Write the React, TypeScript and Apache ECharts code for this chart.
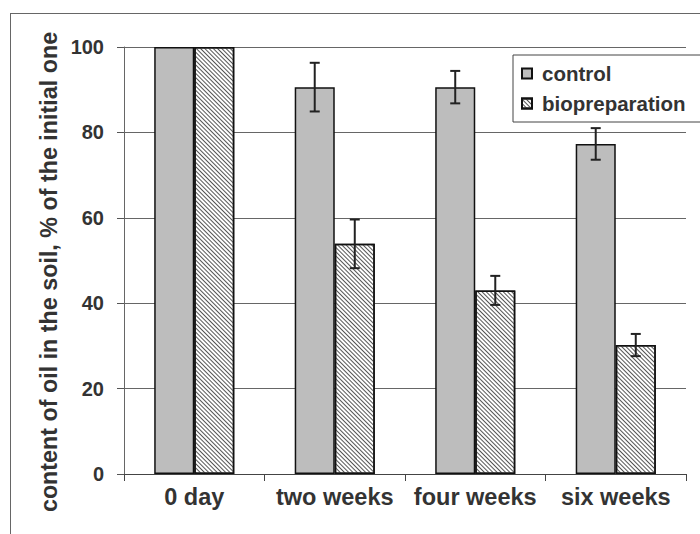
import React, { useEffect, useRef } from "react";
import * as echarts from "echarts";

const categories = ["0 day", "two weeks", "four weeks", "six weeks"];
const controlValues = [100, 90.6, 90.6, 77.3];
const controlErr = [0, 5.7, 3.8, 3.7];
const bioValues = [100, 53.9, 43.0, 30.2];
const bioErr = [0, 5.7, 3.4, 2.6];
const yTitle = "content of oil in the soil, % of the initial one";

const FONT = "Liberation Sans, Arial, sans-serif";
const TEXT = "#333";
const BAR_W = 0.285;

export default function App() {
  const ref = useRef<HTMLDivElement>(null);
  useEffect(() => {
    document.body.style.margin = "0";
    const chart = echarts.init(ref.current!, null, { renderer: "svg" });
    const errData = (vals: number[], errs: number[]) =>
      vals.map((v, i) => [i, v - errs[i], v + errs[i], errs[i]]);
    const errSeries = (name: string, vals: number[], errs: number[], side: number) => ({
      type: "custom",
      name: name + "err",
      silent: true,
      z: 10,
      data: errData(vals, errs),
      renderItem: (params: any, api: any) => {
        if (api.value(3) === 0) return null;
        const band = api.size([1, 0])[0];
        const off = side * band * BAR_W * 0.5;
        const lo = api.coord([api.value(0), api.value(1)]);
        const hi = api.coord([api.value(0), api.value(2)]);
        const x = lo[0] + off;
        const cap = 5;
        const st = { stroke: "#222", lineWidth: 2 };
        return {
          type: "group",
          children: [
            { type: "line", shape: { x1: x, y1: lo[1], x2: x, y2: hi[1] }, style: st },
            { type: "line", shape: { x1: x - cap, y1: lo[1], x2: x + cap, y2: lo[1] }, style: st },
            { type: "line", shape: { x1: x - cap, y1: hi[1], x2: x + cap, y2: hi[1] }, style: st },
          ],
        };
      },
    });
    chart.setOption({
      animation: false,
      backgroundColor: "#fff",
      grid: { left: 124, right: 14, top: 47, bottom: 60 },
      legend: {
        data: ["control", "biopreparation"],
        orient: "vertical",
        left: 513,
        top: 55,
        icon: "rect",
        itemWidth: 10,
        itemHeight: 10,
        itemGap: 9,
        padding: [8, 30, 8, 8],
        borderColor: "#444",
        borderWidth: 1,
        backgroundColor: "#fff",
        textStyle: { fontFamily: FONT, fontWeight: "bold", fontSize: 20.5, color: TEXT, padding: [0, 0, 0, 5] },
      },
      xAxis: {
        type: "category",
        data: categories,
        axisLine: { lineStyle: { color: "#444", width: 1 } },
        axisTick: { show: true, length: 7, lineStyle: { color: "#444" } },
        axisLabel: { fontFamily: FONT, fontWeight: "bold", fontSize: 23.5, color: TEXT, margin: 11, interval: 0 },
      },
      yAxis: {
        type: "value",
        min: 0,
        max: 100,
        interval: 20,
        axisLine: { show: true, lineStyle: { color: "#666", width: 1 } },
        axisTick: { show: true, length: 7, lineStyle: { color: "#555" } },
        axisLabel: { fontFamily: FONT, fontWeight: "bold", fontSize: 20, color: TEXT, margin: 20 },
        splitLine: { lineStyle: { color: "#666", width: 1 } },
      },
      series: [
        {
          name: "control",
          type: "bar",
          data: controlValues,
          barWidth: BAR_W * 100 + "%",
          barGap: "0%",
          itemStyle: { color: "#bdbdbd", borderColor: "#111", borderWidth: 1.5 },
        },
        {
          name: "biopreparation",
          type: "bar",
          data: bioValues,
          barWidth: BAR_W * 100 + "%",
          barGap: "0%",
          itemStyle: {
            color: "#ffffff",
            borderColor: "#111",
            borderWidth: 1.5,
            decal: {
              symbol: "rect",
              symbolSize: 1,
              color: "#555",
              dashArrayX: [1, 0],
              dashArrayY: [1, 1.2],
              rotation: Math.PI / 4,
            },
          },
        },
        errSeries("control", controlValues, controlErr, -1),
        errSeries("bio", bioValues, bioErr, 1),
      ],
      graphic: [
        { type: "line", shape: { x1: 10, y1: 13.5, x2: 700, y2: 13.5 }, style: { stroke: "#666", lineWidth: 1 } },
        { type: "line", shape: { x1: 10.5, y1: 13, x2: 10.5, y2: 534 }, style: { stroke: "#666", lineWidth: 1 } },
        {
          type: "text",
          x: 49,
          y: 272,
          rotation: Math.PI / 2,
          style: {
            text: yTitle,
            fontFamily: FONT,
            fontWeight: "bold",
            fontSize: 23.3,
            fill: TEXT,
            align: "center",
            verticalAlign: "middle",
          },
        },
      ],
    });
    return () => chart.dispose();
  }, []);
  return <div ref={ref} style={{ width: 700, height: 534 }} />;
}
